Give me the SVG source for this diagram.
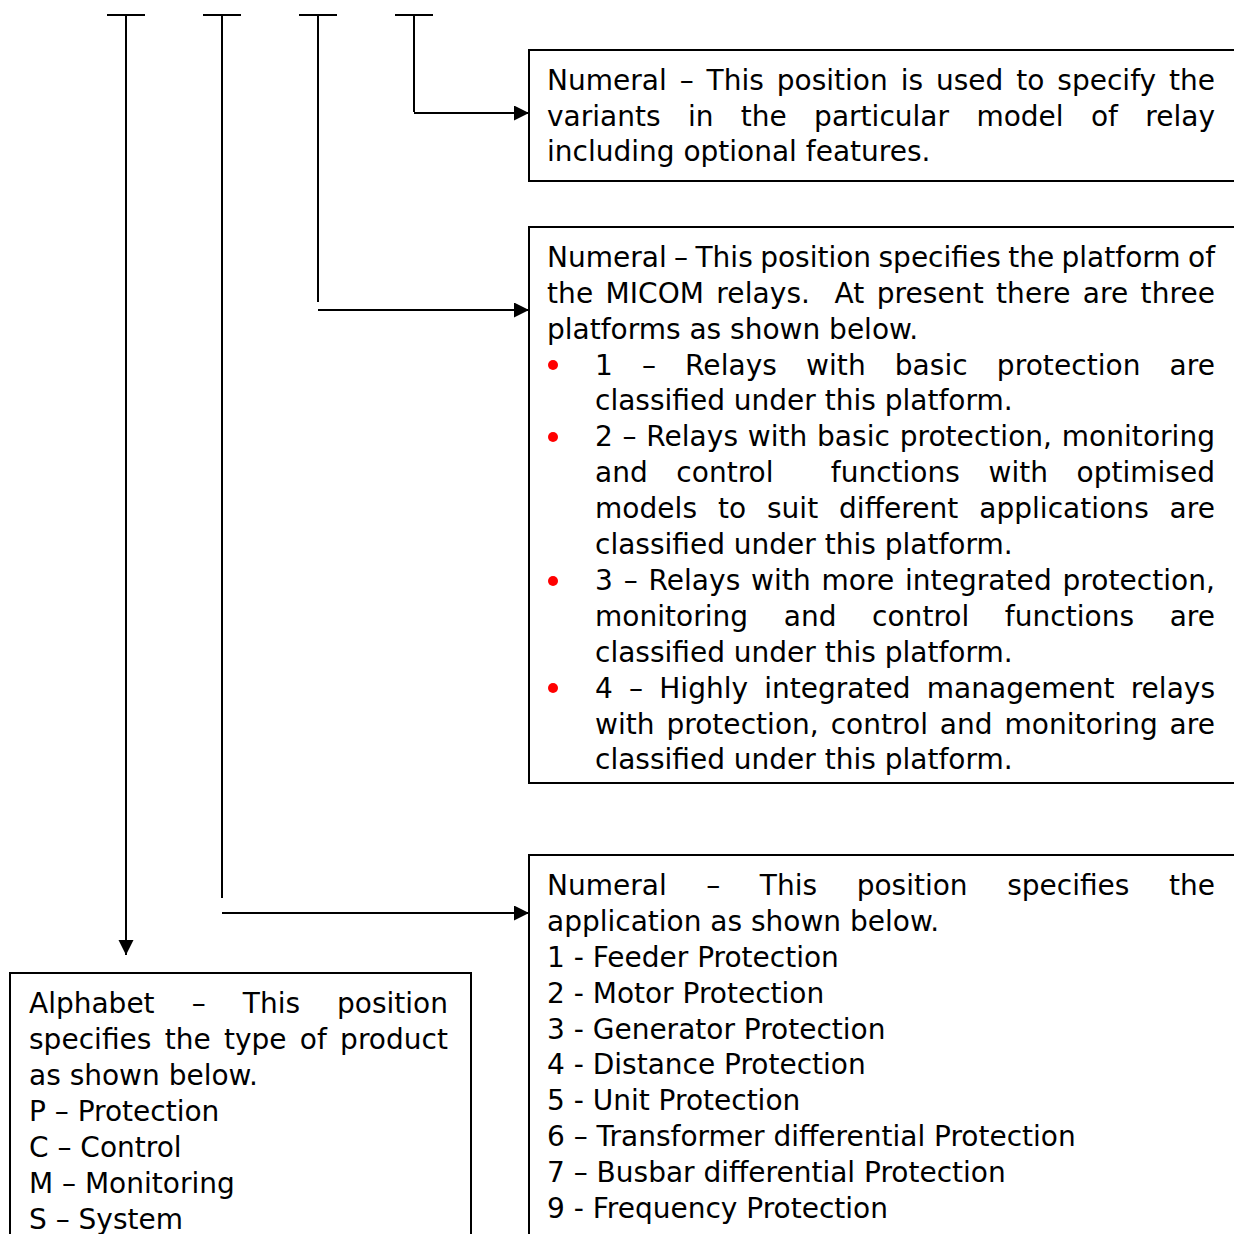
<svg xmlns="http://www.w3.org/2000/svg" width="1234" height="1234" viewBox="0 0 1234 1234">
<style>
text{font-family:"DejaVu Sans","Liberation Sans",sans-serif;font-size:28px;fill:#000}
.box{fill:#fff;stroke:#000;stroke-width:2}
.ln{stroke:#000;stroke-width:2;fill:none}
.bul{fill:#ff0000}
</style>
<defs>
<marker id="ah" markerUnits="userSpaceOnUse" markerWidth="16" markerHeight="16" refX="15" refY="7.5" orient="auto">
<path d="M0,0 L15,7.5 L0,15 Z" fill="#000"/>
</marker>
</defs>
<rect width="1234" height="1234" fill="#fff"/>
<g id="connectors">
<line class="ln" x1="107" y1="15" x2="145" y2="15"/>
<line class="ln" x1="203" y1="15" x2="241" y2="15"/>
<line class="ln" x1="299" y1="15" x2="337" y2="15"/>
<line class="ln" x1="395" y1="15" x2="433" y2="15"/>
<line class="ln" x1="126" y1="15" x2="126" y2="955" marker-end="url(#ah)"/>
<line class="ln" x1="222" y1="15" x2="222" y2="898"/>
<line class="ln" x1="222" y1="913" x2="529" y2="913" marker-end="url(#ah)"/>
<line class="ln" x1="318" y1="15" x2="318" y2="302"/>
<line class="ln" x1="318" y1="310" x2="529" y2="310" marker-end="url(#ah)"/>
<line class="ln" x1="414" y1="15" x2="414" y2="112"/>
<line class="ln" x1="414" y1="113" x2="529" y2="113" marker-end="url(#ah)"/>
</g>
<g id="node-variants">
<rect class="box" x="529" y="50" width="720" height="131"/>
<text x="547" y="90" style="word-spacing:4px" textLength="668" lengthAdjust="spacing">Numeral – This position is used to specify the</text>
<text x="547" y="126" style="word-spacing:18.4px" textLength="668" lengthAdjust="spacing">variants in the particular model of relay</text>
<text x="547" y="161">including optional features.</text>
</g>
<g id="node-platform">
<rect class="box" x="529" y="227" width="720" height="556"/>
<text x="547" y="267" style="word-spacing:-1.5px" textLength="668" lengthAdjust="spacing">Numeral – This position specifies the platform of</text>
<text x="547" y="303" xml:space="preserve" style="word-spacing:3.3px" textLength="668" lengthAdjust="spacing">the MICOM relays.  At present there are three</text>
<text x="547" y="339">platforms as shown below.</text>
<circle class="bul" cx="553" cy="365" r="5"/>
<text x="595" y="375" style="word-spacing:20.1px" textLength="620" lengthAdjust="spacing">1 – Relays with basic protection are</text>
<text x="595" y="410">classified under this platform.</text>
<circle class="bul" cx="553" cy="437" r="5"/>
<text x="595" y="446" style="word-spacing:0.75px" textLength="620" lengthAdjust="spacing">2 – Relays with basic protection, monitoring</text>
<text x="595" y="482" xml:space="preserve" style="word-spacing:19.7px" textLength="620" lengthAdjust="spacing">and control  functions with optimised</text>
<text x="595" y="518" style="word-spacing:11.9px" textLength="620" lengthAdjust="spacing">models to suit different applications are</text>
<text x="595" y="554">classified under this platform.</text>
<circle class="bul" cx="553" cy="581" r="5"/>
<text x="595" y="590" style="word-spacing:1.8px" textLength="620" lengthAdjust="spacing">3 – Relays with more integrated protection,</text>
<text x="595" y="626" style="word-spacing:26.6px" textLength="620" lengthAdjust="spacing">monitoring and control functions are</text>
<text x="595" y="662">classified under this platform.</text>
<circle class="bul" cx="553" cy="688" r="5"/>
<text x="595" y="698" style="word-spacing:7.3px" textLength="620" lengthAdjust="spacing">4 – Highly integrated management relays</text>
<text x="595" y="734" style="word-spacing:2.9px" textLength="620" lengthAdjust="spacing">with protection, control and monitoring are</text>
<text x="595" y="769">classified under this platform.</text>
</g>
<g id="node-application">
<rect class="box" x="529" y="855" width="720" height="400"/>
<text x="547" y="895" style="word-spacing:30.7px" textLength="668" lengthAdjust="spacing">Numeral – This position specifies the</text>
<text x="547" y="931">application as shown below.</text>
<text x="547" y="967">1 - Feeder Protection</text>
<text x="547" y="1003">2 - Motor Protection</text>
<text x="547" y="1039">3 - Generator Protection</text>
<text x="547" y="1074">4 - Distance Protection</text>
<text x="547" y="1110">5 - Unit Protection</text>
<text x="547" y="1146">6 – Transformer differential Protection</text>
<text x="547" y="1182">7 – Busbar differential Protection</text>
<text x="547" y="1218">9 - Frequency Protection</text>
</g>
<g id="node-alphabet">
<rect class="box" x="10" y="973" width="461" height="300"/>
<text x="29" y="1013" style="word-spacing:28.2px" textLength="419" lengthAdjust="spacing">Alphabet – This position</text>
<text x="29" y="1049" style="word-spacing:4.3px" textLength="419" lengthAdjust="spacing">specifies the type of product</text>
<text x="29" y="1085">as shown below.</text>
<text x="29" y="1121">P – Protection</text>
<text x="29" y="1157">C – Control</text>
<text x="29" y="1193">M – Monitoring</text>
<text x="29" y="1229">S – System</text>
</g>
</svg>
